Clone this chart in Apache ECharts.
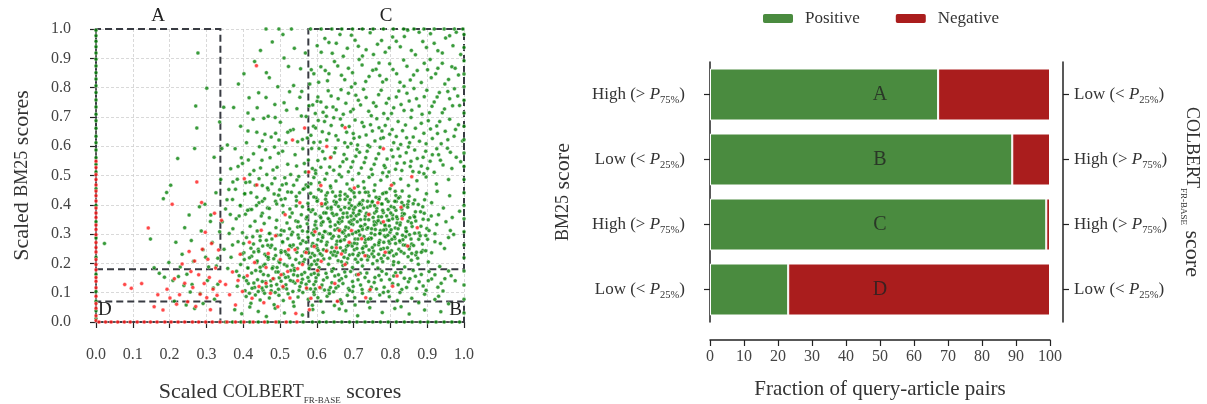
<!DOCTYPE html>
<html><head><meta charset="utf-8">
<script src="https://cdn.jsdelivr.net/npm/echarts@6/dist/echarts.min.js"></script>
<style>html,body{margin:0;background:#fff}#chart{width:1207px;height:404px}</style>
</head><body><div id="chart"></div>
<script>
// scatter points in thousandths [colbert, bm25]
var greenPts = [
[412,185],[437,203],[455,192],[468,214],[481,188],[497,207],[512,196],[526,219],[539,183],[553,201],[567,213],[581,190],[594,208],[606,186],[619,215],[632,197],[645,182],[658,209],[671,193],[684,217],[697,186],[711,204],[724,191],[738,212],[752,199],[766,184],[779,206],[793,218],[808,195],[822,203],[839,188],[857,211],[876,197],[903,205],[934,189],
[402,236],[423,224],[441,248],[459,231],[474,255],[488,227],[503,243],[518,232],[531,257],[546,238],[559,225],[573,249],[588,234],[601,252],[614,228],[627,244],[639,237],[652,226],[664,253],[677,239],[689,229],[702,247],[715,234],[727,256],[741,223],[754,242],[768,231],[781,251],[795,238],[809,226],[823,248],[837,235],[852,257],[869,229],[888,244],[912,236],[947,251],
[386,274],[409,288],[428,266],[446,293],[463,279],[477,262],[492,296],[507,271],[521,284],[536,263],[549,297],[562,277],[576,289],[589,268],[603,281],[616,294],[628,272],[641,286],[653,264],[666,279],[679,292],[692,268],[704,283],[717,297],[731,271],[744,287],[757,263],[771,278],[784,294],[798,269],[812,285],[826,273],[841,291],[858,266],[877,282],[896,295],[921,274],[958,288],
[372,318],[398,305],[419,327],[438,311],[457,336],[473,302],[489,322],[504,313],[519,338],[534,306],[548,324],[561,311],[574,335],[587,303],[599,319],[612,331],[624,308],[637,326],[649,314],[661,337],[673,304],[686,321],[698,333],[711,309],[723,325],[736,317],[748,303],[761,334],[773,312],[786,328],[799,306],[813,321],[827,338],[842,311],[859,326],[878,304],[899,319],[926,333],[963,312],
[381,352],[406,368],[432,344],[452,371],[471,356],[491,347],[509,373],[527,358],[543,345],[558,366],[571,352],[584,377],[597,343],[609,361],[621,374],[634,349],[646,364],[658,341],[670,357],[682,372],[694,346],[707,363],[719,378],[731,351],[743,368],[756,342],[768,359],[781,374],[793,347],[806,365],[819,352],[833,371],[848,344],[864,362],[882,376],[903,349],[931,366],[968,357],
[393,396],[418,384],[443,407],[466,389],[488,412],[508,398],[527,386],[545,414],[561,393],[576,405],[589,383],[602,417],[614,397],[627,409],[639,386],[651,402],[663,418],[676,391],[688,406],[700,384],[713,399],[725,415],[738,392],[750,408],[763,387],[776,403],[789,419],[802,394],[816,411],[831,385],[847,401],[866,416],[888,393],[912,407],[944,389],
[404,437],[437,426],[468,451],[496,433],[521,444],[544,428],[566,456],[583,439],[598,424],[612,447],[625,433],[638,458],[651,429],[664,444],[677,436],[690,453],[703,427],[716,442],[729,457],[742,431],[756,448],[770,425],[784,441],[799,455],[815,432],[832,447],[851,429],[873,452],[898,438],[927,446],[961,431],
[418,478],[452,466],[486,491],[517,472],[546,485],[571,468],[592,493],[607,475],[622,487],[637,464],[652,481],[667,496],[682,471],[697,486],[712,463],[727,479],[742,494],[758,468],[774,484],[791,497],[809,473],[828,488],[849,466],[872,482],[897,495],[925,471],[958,486],
[603,212],[618,247],[626,263],[633,301],[644,229],[655,276],[662,315],[668,344],[674,221],[681,258],[687,297],[693,335],[699,372],[705,214],[709,267],[714,311],[719,349],[726,237],[733,281],[739,322],[745,396],[751,254],[758,298],[763,341],[769,419],[775,217],[782,272],[788,316],[794,384],[803,243],[811,291],[818,338],[826,427],[835,263],[844,309],[853,356],[862,404],[871,238],[883,327],[892,371],[611,356],[629,389],[647,412],[665,383],[683,428],[701,351],[721,401],[739,443],[757,372],[779,438],[797,328],[815,381],[833,296],[851,249],[869,345],[887,266],[905,312],[616,288],[636,342],[656,237],[676,313],[696,259],[716,379],[736,226],[756,331],[776,359],[796,276],[816,232],[836,398],[856,283],[624,419],[642,371],[660,292],[678,246],[694,397],[712,283],[732,362],[750,232],[772,302],[792,253],[812,412],[832,361],[848,223],[866,303],
[586,196],[594,227],[599,262],[607,301],[613,338],[619,372],[623,403],[629,441],[635,218],[641,254],[645,293],[650,331],[654,367],[659,394],[663,432],[667,206],[671,242],[675,281],[679,324],[683,358],[688,388],[691,417],[695,448],[698,231],[702,269],[706,306],[710,342],[714,368],[717,407],[721,213],[724,251],[728,292],[731,333],[735,371],[738,412],[742,246],[746,283],[749,318],[753,357],[757,397],[761,426],[764,209],[768,264],[771,302],[775,339],[779,381],[783,228],[787,291],[790,362],[794,411],[798,237],[802,315],[806,352],[810,391],[814,268],[818,301],[822,423],[826,331],[829,241],[834,281],[838,369],[842,321],[847,392],[852,298],[857,338],[863,261],[868,376],[874,218],[881,294],[889,351],[896,243],[604,244],[612,276],[621,309],[631,353],[639,392],[648,241],[657,318],[664,276],[672,371],[681,201],[688,341],[697,301],[704,392],[712,227],[719,327],[727,389],[734,259],[741,349],[748,286],[755,223],[762,378],[769,271],[777,403],[785,331],[793,296],[801,372],[809,206],[817,359],[825,277],[592,314],[596,369],[601,412],[605,452],[609,233],[617,342],[625,372],[637,301],[643,444],[653,409],[662,352],[669,307],[677,419],[685,262],[693,362],[701,441],[709,251],[716,403],[724,316],[732,443],[740,283],[751,411],[759,316],[767,346],[774,248],[782,314],[789,442],[796,347],[804,282],[813,446],[821,318],[831,408],[841,262],[849,412],[858,234],[866,358],[876,401],[884,238],[893,417],[901,282],[911,362],[921,301],[936,268],[951,342],[972,299],[988,378],
[402,152],[414,131],[423,167],[431,118],[439,144],[447,173],[454,108],[461,137],[468,159],[476,124],[483,148],[489,171],[496,112],[503,139],[509,163],[516,127],[522,154],[529,176],[535,104],[541,133],[548,158],[554,121],[561,146],[567,169],[573,113],[579,139],[585,162],[592,128],[598,151],[604,174],[611,117],[618,143],[625,166],[633,109],[641,134],[649,157],[658,122],[667,148],[676,171],[686,114],[697,138],[708,161],[719,126],[731,152],[743,107],[756,135],[769,159],[783,119],[798,145],[814,168],[831,111],[849,137],[868,156],[889,123],[912,147],[938,132],[965,158],
[384,122],[389,158],[393,196],[397,232],[401,268],[405,107],[409,141],[413,184],[417,219],[421,252],[426,291],[429,133],[434,176],[438,208],[442,241],[446,278],[451,116],[455,162],[459,197],[463,226],[467,262],[471,302],[475,141],[479,183],[483,216],[487,249],[491,128],[495,171],[499,203],[503,237],[507,274],[511,311],[515,152],[519,191],[523,228],[527,261],[531,298],[535,139],[539,176],[543,213],[547,252],[551,287],[555,326],[559,162],[563,204],[567,239],[571,272],[575,308],[579,183],[583,221],[587,259],[591,297],[595,331],[599,197],[424,115],[452,138],[476,107],[498,151],[518,113],[537,161],[558,134],[576,152],[596,113],[417,98],[441,104],[463,121],[487,101],[509,117],[528,142],[552,108],[571,129],[593,166],[446,187],[468,221],[492,186],[514,241],[534,194],[556,267],[578,236],[382,173],[403,213],[429,239],[453,259],[478,283],[502,297],[526,318],[549,342],[573,358],[367,221],[371,263],[358,183],[362,302],[348,248],
[408,87],[421,64],[433,92],[446,75],[458,98],[471,82],[484,59],[497,91],[509,73],[522,96],[536,68],[549,85],[562,101],[577,78],[593,94],[611,71],[628,88],[646,103],[664,76],[683,91],[703,83],[724,98],[746,79],[771,92],[797,86],[826,101],[858,81],[893,95],[931,88],
[377,42],[396,28],[418,51],[441,36],[463,19],[487,47],[512,31],[538,54],[561,24],[589,43],[617,33],[648,56],[679,38],[711,21],[744,49],[778,32],[812,46],[851,27],[893,41],[937,35],
[583,113],[597,138],[604,161],[621,109],[628,152],[641,173],[652,116],[659,161],[671,131],[679,155],[692,172],[699,121],[712,144],[723,111],[736,167],[741,138],[758,152],[762,113],[775,143],[789,164],[794,104],[809,157],[821,127],[828,169],[844,118],[853,148],[862,176],[878,137],[884,162],[897,108],[903,141],[921,161],[929,119],[948,148],[958,174],[603,83],[634,97],[668,63],[697,104],[739,68],[781,101],[819,73],[877,66],[921,77],[588,57],[661,44],[704,58],[829,52],[958,62],
[352,386],[361,452],[366,523],[371,418],[378,591],[384,487],[389,362],[393,668],[398,541],[404,438],[409,612],[413,713],[418,503],[423,384],[428,574],[433,467],[437,648],[442,782],[447,526],[452,412],[456,695],[461,588],[466,457],[471,834],[476,631],[481,519],[486,742],[491,403],[496,576],[501,682],[506,468],[511,901],[516,612],[521,538],[526,786],[531,443],[536,657],[541,571],[546,728],[551,497],[556,864],[561,623],[566,541],[571,701],[576,462],[581,812],[586,592],[591,668],[596,517],[601,753],[343,342],[357,604],[374,732],[387,812],[402,847],[416,765],[431,889],[447,927],[463,851],[479,956],[494,803],[508,981],[523,872],[539,934],[554,767],[569,918],[585,861],[372,478],[395,561],[412,381],[427,692],[444,598],[459,641],[473,561],[488,644],[503,418],[518,723],[533,372],[548,615],[563,453],[578,384],[592,427],[449,362],[468,702],[484,437],[513,492],[528,654],[544,396],[559,787],[574,628],
[356,417],[365,367],[379,453],[386,531],[392,398],[407,476],[414,553],[421,441],[429,517],[436,398],[443,489],[451,552],[458,421],[464,503],[471,387],[478,472],[485,597],[492,528],[499,451],[507,583],[514,421],[521,648],[529,503],[537,467],[545,532],[553,441],[562,591],[569,512],[577,553],[584,472],[413,652],[438,731],[462,766],[487,698],[511,748],[537,807],[558,703],[579,738],[452,618],[497,621],
[588,524],[603,551],[616,582],[627,507],[639,563],[651,594],[663,531],[674,572],[686,513],[698,547],[709,589],[721,526],[733,561],[744,598],[756,538],[768,574],[779,509],[791,556],[803,587],[814,521],[826,566],[838,543],[849,597],[861,514],[873,558],[884,532],[896,583],[908,549],[919,511],[931,571],[943,536],[955,593],[967,524],[979,562],[991,547],[611,528],[646,518],[681,556],[716,579],[751,503],[786,527],[821,591],[856,549],[891,506],[926,591],
[597,507],[606,592],[622,557],[635,529],[648,578],[661,503],[671,547],[684,597],[693,528],[706,566],[714,507],[729,544],[737,583],[748,521],[761,557],[772,596],[783,534],[796,512],[807,564],[818,542],[831,517],[843,578],[854,531],[866,587],[878,511],[889,562],[901,524],[914,571],[936,552],[963,579],
[584,637],[597,662],[609,614],[621,684],[633,643],[646,697],[658,621],[669,671],[681,648],[693,609],[704,689],[716,631],[728,667],[739,603],[751,652],[763,694],[774,626],[786,671],[798,641],[809,612],[821,684],[833,653],[844,629],[856,698],[868,661],[879,617],[891,644],[903,687],[914,626],[926,669],[938,608],[949,651],[961,692],[973,634],[985,673],[996,618],[626,702],[701,627],[777,652],[852,612],[928,643],
[592,613],[604,688],[615,649],[627,621],[639,671],[652,636],[664,693],[676,612],[688,667],[699,643],[711,604],[723,681],[734,638],[746,673],[758,618],[769,663],[781,629],[793,694],[805,657],[816,633],[828,606],[841,672],[862,631],[884,678],[897,608],[909,659],[934,684],[956,622],[977,657],
[589,741],[603,768],[617,716],[631,789],[644,734],[658,762],[672,709],[686,781],[699,726],[713,757],[727,794],[741,719],[754,748],[768,776],[782,712],[796,763],[809,731],[823,788],[837,722],[851,754],[864,797],[878,737],[892,769],[906,714],[919,751],[933,783],[947,727],[961,762],[974,796],[988,739],[694,802],[837,805],
[596,712],[611,751],[626,733],[639,771],[653,724],[666,793],[679,747],[692,718],[706,774],[719,741],[734,766],[748,704],[761,736],[775,791],[789,747],[803,712],[816,768],[829,742],[845,781],[858,723],[871,762],[886,709],[899,791],[913,736],[927,768],[941,714],[956,787],[969,738],[983,771],
[592,847],[611,871],[629,823],[648,889],[667,842],[686,866],[704,814],[723,877],[742,838],[761,863],[779,819],[798,881],[817,847],[836,894],[854,826],[873,858],[892,883],[911,834],[929,866],[948,812],[967,871],[985,843],[623,858],[771,841],[908,896],
[605,818],[633,847],[657,874],[676,827],[697,851],[715,896],[733,821],[752,859],[769,884],[789,828],[807,862],[826,818],[845,873],[863,843],[884,817],[901,861],[923,847],[941,883],[958,828],[976,866],
[601,943],[622,968],[642,917],[663,981],[683,934],[704,962],[724,908],[745,987],[765,948],[786,921],[806,973],[827,939],[847,996],[868,912],[888,957],[909,984],[929,926],[950,969],[970,943],[991,913],[653,951],[734,929],[816,958],[898,937],[979,989],
[612,921],[633,954],[672,907],[694,979],[713,941],[754,913],[776,961],[797,936],[838,974],[857,927],[878,989],[919,951],[941,918],[961,977],
[592,102],[614,126],[637,118],[661,142],[689,108],[718,166],[748,119],[777,173],[806,131],[838,149],[871,114],[905,172],[943,106],[976,141],
[158,185],[172,166],[186,153],[198,203],[203,467],[209,142],[217,272],[222,558],[229,188],[234,231],[241,322],[247,163],[253,365],[259,278],[265,207],[268,592],[271,737],[274,662],[277,918],[281,393],[286,311],[291,247],[296,402],[301,798],[306,188],[311,343],[316,271],[321,562],[326,441],[331,218],[336,308],[339,486],[192,442],[183,421],[148,283],[239,125],[261,128],[283,97],[303,142],[319,116],[213,71],[245,58],[268,46],[291,63],[322,78],[23,268],[342,592],[336,683],[347,733],[224,155],[256,102],[298,221],[312,365],[327,191],[331,129]
];
var redPts = [
[78,128],[96,115],[124,131],[142,321],[158,52],[168,93],[182,41],[193,112],[201,82],[207,402],[213,148],[219,61],[227,93],[234,198],[241,132],[249,69],[253,241],[258,172],[263,118],[268,208],[271,53],[274,478],[279,161],[283,95],[287,408],[289,248],[294,131],[297,306],[301,83],[304,214],[308,152],[311,42],[314,268],[318,112],[322,371],[325,184],[329,91],[333,246],[337,138],[341,347],
[352,128],[363,93],[371,171],[379,58],[386,142],[392,231],[398,104],[403,489],[411,158],[417,272],[424,81],[431,203],[437,468],[443,121],[449,313],[456,66],[462,186],[468,234],[474,98],[481,148],[488,294],[494,52],[501,213],[508,121],[514,366],[521,172],[527,82],[534,621],[541,247],[548,141],[554,407],[561,196],[567,662],[572,116],[578,512],[584,81],[593,258],[602,176],[613,404],[626,242],[637,561],[649,131],[661,312],[677,196],[688,272],[702,457],[713,162],[731,226],[745,111],[766,407],[781,342],[806,122],[818,157],[832,352],[847,259],[858,496],[873,322],[781,591],[627,599],[611,466],[677,663],[436,875],[608,118],[733,83],[656,71],[580,42],[543,29],
[612,207],[653,253],[694,312],[741,367],[786,238],[829,392],[571,237],[548,182],[503,161],[462,132],[523,247],[595,308],[667,232],[722,284],[803,467]
];
// points lying on the plot edges (value of the free coordinate, thousandths)
var leftEdgeGreenY = [12,38,71,104,163,221,287,342,398,455,512,538,561,587,612,634,661,687,709,734,758,783,806,829,851,874,897,918,939,958,977,996];
var leftEdgeRedY = [5,21,47,63,88,117,139,152,178,196,213,239,254,271,298,316,331,357,372,389,413,431,447,468,486,503,527,549];
var bottomEdgeRedX = [8,26,41,59,77,93,112,131,148,166,187,204,223,241,262,279,298,316,337,356,379,402,427,458,489,517,546];
var bottomEdgeGreenX = [352,371,394,418,441,466,497,528,563,588,607,626,647,668,689,709,731,752,773,794,816,838,859,881,902,924,946,967,988];
var rightEdgeGreenY = [31,78,126,174,219,263,308,352,398,441,486,531,577,622,668,713,757,803,846,892,937,981];
var topEdgeGreenX = [462,497,531,583,612,641,668,697,724,753,781,808,836,864,891,919,946,974,997];

// bar chart
var quadrants = ['A', 'B', 'C', 'D'];
var bm25Levels = ['High', 'Low', 'High', 'Low'];
var colbertLevels = ['Low', 'High', 'High', 'Low'];
var positive = [67.1, 88.9, 98.9, 23.0];
var negative = [32.9, 11.1, 1.1, 77.0];

var FONT = 'Liberation Serif';

function toXY(arr) { return arr.map(function (p) { return [p[0] / 1000, p[1] / 1000]; }); }
var greenData = toXY(greenPts)
  .concat(leftEdgeGreenY.map(function (y) { return [0, y / 1000]; }))
  .concat(bottomEdgeGreenX.map(function (x) { return [x / 1000, 0]; }))
  .concat(rightEdgeGreenY.map(function (y) { return [1, y / 1000]; }))
  .concat(topEdgeGreenX.map(function (x) { return [x / 1000, 1]; }));
var redData = toXY(redPts)
  .concat(leftEdgeRedY.map(function (y) { return [0, y / 1000]; }))
  .concat(bottomEdgeRedX.map(function (x) { return [x / 1000, 0]; }));

function levelLabel(lv) {
  var sign = lv === 'High' ? '>' : '<';
  var pct = lv === 'High' ? '75%' : '25%';
  return '{n|' + lv + ' (' + sign + ' }{p|P}{s|' + pct + '}{n|)}';
}
var levelRich = {
  n: { fontFamily: FONT, fontSize: 17, color: '#333', lineHeight: 22 },
  p: { fontFamily: FONT, fontSize: 17, color: '#333', fontStyle: 'italic', lineHeight: 22 },
  s: { fontFamily: FONT, fontSize: 10.5, color: '#333', lineHeight: 11, verticalAlign: 'bottom' }
};
var nameRich = {
  n: { fontFamily: FONT, fontSize: 22, color: '#333', lineHeight: 26 },
  sc: { fontFamily: FONT, fontSize: 18, color: '#333', lineHeight: 26 },
  sub: { fontFamily: FONT, fontSize: 9, color: '#333', lineHeight: 11, verticalAlign: 'bottom' }
};

var boxStyle = { color: 'rgba(0,0,0,0)', borderColor: '#383b42', borderWidth: 2, borderType: [7, 4] };
var boxLabel = { fontFamily: FONT, fontSize: 19, color: '#222' };

var valAxisCommon = {
  type: 'value', min: 0, max: 1, interval: 0.1,
  axisLine: { show: true, lineStyle: { color: '#222', width: 1.5 } },
  axisTick: { show: true, length: 6, lineStyle: { color: '#222', width: 1.2 } },
  axisLabel: { fontFamily: FONT, fontSize: 16, color: '#444', formatter: function (v) { return v.toFixed(1); } },
  splitLine: { show: true, lineStyle: { color: '#cfcfcf', type: [3, 2], width: 0.8 } }
};

var option = {
  animation: false,
  backgroundColor: '#fff',
  grid: [
    { left: 96, top: 29, width: 368, height: 293, outerBoundsMode: 'none', containLabel: false },
    { left: 710, top: 62, width: 340, height: 260, outerBoundsMode: 'none', containLabel: false }
  ],
  legend: {
    left: 756, top: 5, itemWidth: 32, itemHeight: 11, itemGap: 34,
    textStyle: { fontFamily: FONT, fontSize: 17, color: '#333', padding: [0, 0, 0, 6] },
    data: ['Positive', 'Negative']
  },
  xAxis: [
    Object.assign({}, valAxisCommon, {
      gridIndex: 0, offset: 13,
      axisLabel: Object.assign({}, valAxisCommon.axisLabel, { margin: 12 }),
      name: '{n|Scaled }{sc|COLBERT}{sub|FR-BASE}{n| scores}',
      nameLocation: 'middle', nameGap: 44, nameTextStyle: { rich: nameRich }
    }),
    {
      type: 'value', gridIndex: 1, min: 0, max: 100, interval: 10, offset: 18,
      axisLine: { show: true, lineStyle: { color: '#222', width: 1.5 } },
      axisTick: { show: true, length: 6, lineStyle: { color: '#222', width: 1.2 } },
      axisLabel: { fontFamily: FONT, fontSize: 16, color: '#444', margin: 9 },
      splitLine: { show: false },
      name: 'Fraction of query-article pairs', nameLocation: 'middle', nameGap: 39,
      nameTextStyle: { fontFamily: FONT, fontSize: 21, color: '#333' }
    }
  ],
  yAxis: [
    Object.assign({}, valAxisCommon, {
      gridIndex: 0, offset: 13,
      axisLabel: Object.assign({}, valAxisCommon.axisLabel, { margin: 12 }),
      name: '{n|Scaled }{sc|BM25}{n| scores}',
      nameLocation: 'middle', nameGap: 48, nameRotate: 90, nameTextStyle: { rich: nameRich }
    }),
    {
      type: 'category', gridIndex: 1, data: quadrants, inverse: true, offset: 13,
      axisLine: { show: true, lineStyle: { color: '#222', width: 1.5 } },
      axisTick: { show: true, alignWithLabel: true, length: 6, lineStyle: { color: '#222', width: 1.2 } },
      axisLabel: { margin: 12, formatter: function (v, i) { return levelLabel(bm25Levels[i]); }, rich: levelRich },
      name: '{sc|BM25}{n| score}', nameLocation: 'middle', nameGap: 121, nameRotate: 90,
      nameTextStyle: { rich: nameRich }
    },
    {
      type: 'category', gridIndex: 1, data: quadrants, inverse: true, position: 'right', offset: 13,
      axisLine: { show: true, lineStyle: { color: '#222', width: 1.5 } },
      axisTick: { show: true, alignWithLabel: true, length: 6, lineStyle: { color: '#222', width: 1.2 } },
      axisLabel: { margin: 11, formatter: function (v, i) { return levelLabel(colbertLevels[i]); }, rich: levelRich },
      name: '{sc|COLBERT}{sub|FR-BASE}{n| score}', nameLocation: 'middle', nameGap: 116, nameRotate: -90,
      nameTextStyle: { rich: nameRich }
    }
  ],
  series: [
    {
      type: 'scatter', xAxisIndex: 0, yAxisIndex: 0, data: greenData, clip: false,
      symbolSize: 4, itemStyle: { color: '#08820a', borderColor: '#fff', borderWidth: 0.5 }, silent: true
    },
    {
      type: 'scatter', xAxisIndex: 0, yAxisIndex: 0, data: redData, clip: false, z: 3,
      symbolSize: 4, itemStyle: { color: '#ff1a1a', borderColor: '#fff', borderWidth: 0.5 }, silent: true,
      markArea: {
        silent: true, itemStyle: boxStyle,
        data: [
          [{ name: 'A', coord: [-0.005, 0.18], label: Object.assign({ position: 'top', distance: 2 }, boxLabel) }, { coord: [0.338, 1.007] }],
          [{ name: 'C', coord: [0.577, 0.18], label: Object.assign({ position: 'top', distance: 2 }, boxLabel) }, { coord: [1.007, 1.007] }],
          [{ name: 'D', coord: [-0.005, -0.004], label: Object.assign({ position: 'insideBottomLeft', distance: 3 }, boxLabel) }, { coord: [0.338, 0.07] }],
          [{ name: 'B', coord: [0.577, -0.004], label: Object.assign({ position: 'insideBottomRight', distance: 3 }, boxLabel) }, { coord: [1.007, 0.07] }]
        ]
      }
    },
    {
      name: 'Positive', type: 'bar', xAxisIndex: 1, yAxisIndex: 1, stack: 'q', data: positive,
      barCategoryGap: '20%', itemStyle: { color: '#4a8b3f', borderColor: '#fff', borderWidth: 1 }
    },
    {
      name: 'Negative', type: 'bar', xAxisIndex: 1, yAxisIndex: 1, stack: 'q', data: negative,
      itemStyle: { color: '#aa1d1d', borderColor: '#fff', borderWidth: 1 }
    },
    {
      type: 'scatter', xAxisIndex: 1, yAxisIndex: 1, silent: true, z: 5,
      data: quadrants.map(function (q) { return [50, q]; }),
      symbolSize: 1, itemStyle: { color: 'rgba(0,0,0,0)' },
      label: { show: true, position: 'inside', formatter: function (p) { return p.value[1]; }, fontFamily: FONT, fontSize: 20, color: '#222' }
    }
  ]
};

var myChart = echarts.init(document.getElementById('chart'));
myChart.setOption(option);
</script></body></html>
